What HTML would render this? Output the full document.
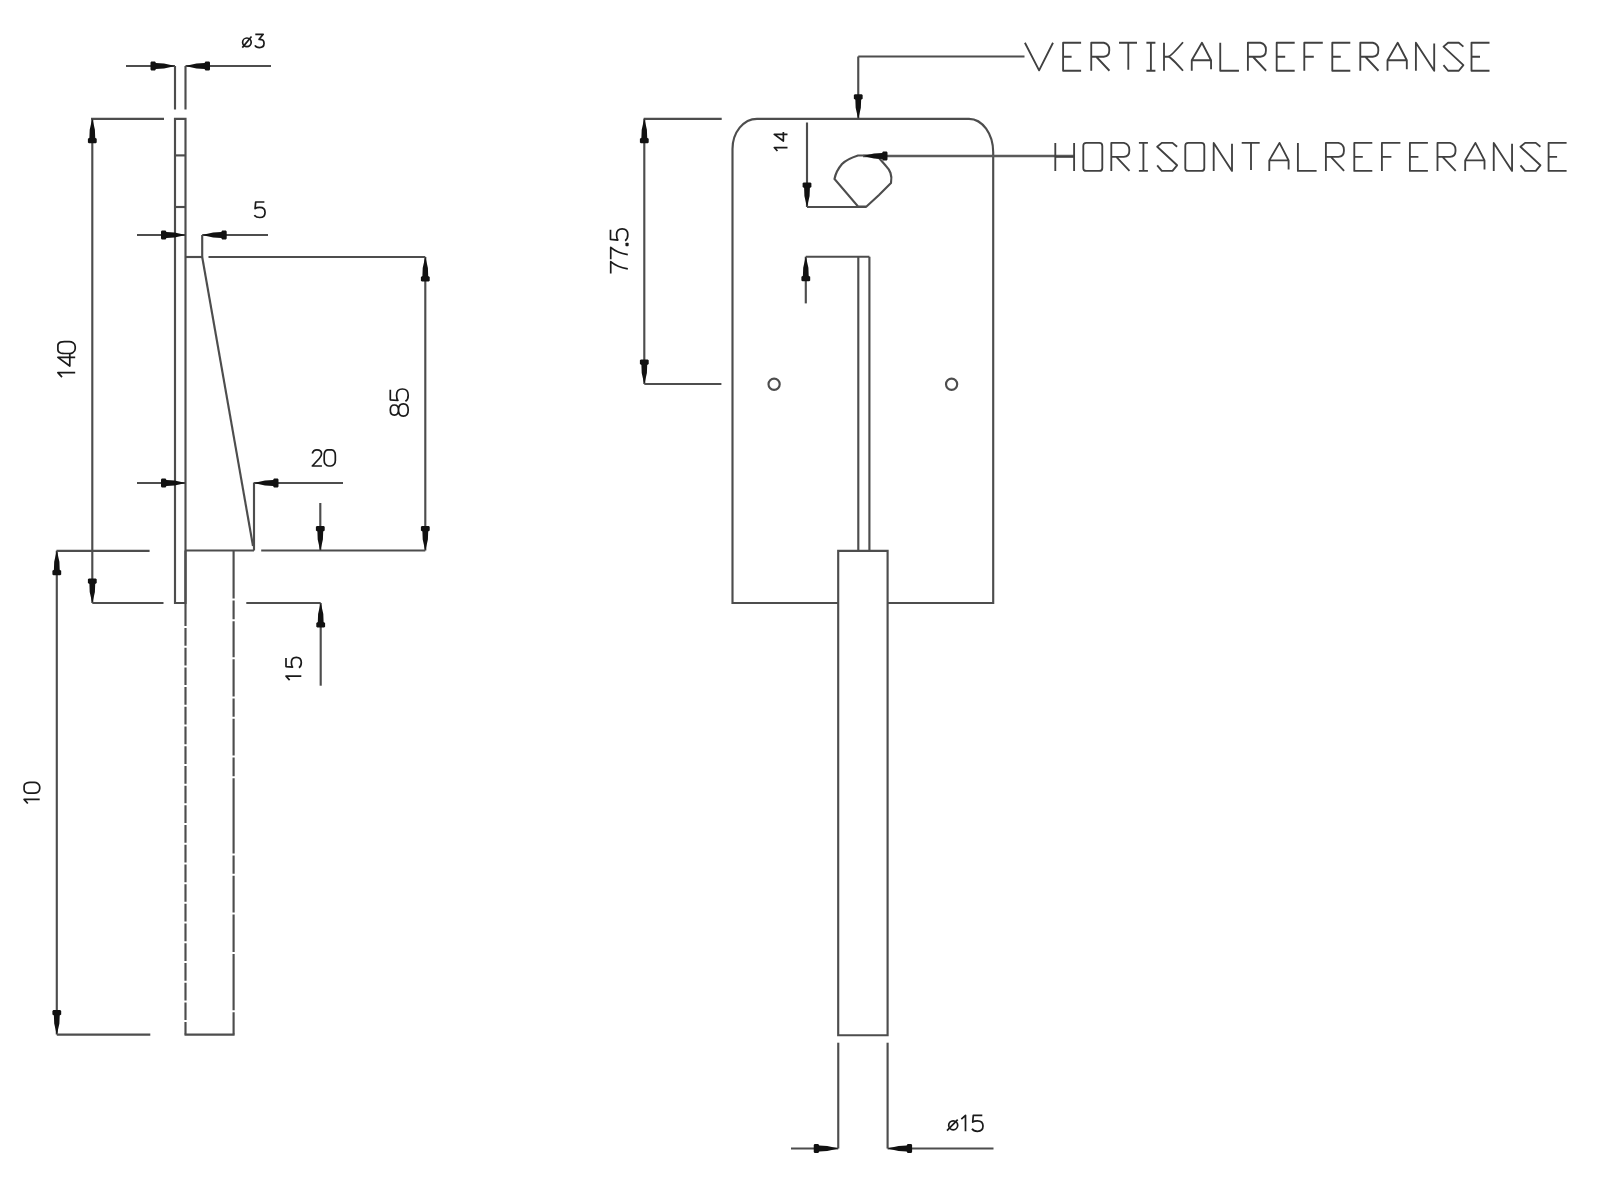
<!DOCTYPE html>
<html><head><meta charset="utf-8"><style>
html,body{margin:0;padding:0;background:#fff;width:1600px;height:1182px;overflow:hidden}
svg{display:block}
text{font-family:"Liberation Sans",sans-serif}
</style></head><body>
<svg width="1600" height="1182" viewBox="0 0 1600 1182">
<rect width="1600" height="1182" fill="#fff"/>
<g stroke="#4d4d4d" stroke-width="2.15" fill="none" stroke-linecap="butt" stroke-linejoin="miter">
<line x1="126" y1="66" x2="175" y2="66" />
<line x1="185.5" y1="66" x2="271" y2="66" />
<polygon points="175.00,66.00 172.00,66.80 164.00,68.60 156.00,68.90 155.00,70.40 151.30,70.40 150.50,69.40 150.50,62.60 151.30,61.60 155.00,61.60 156.00,63.10 164.00,63.40 172.00,65.20" fill="#111" stroke="none"/>
<polygon points="185.50,66.00 188.50,66.80 196.50,68.60 204.50,68.90 205.50,70.40 209.20,70.40 210.00,69.40 210.00,62.60 209.20,61.60 205.50,61.60 204.50,63.10 196.50,63.40 188.50,65.20" fill="#111" stroke="none"/>
<line x1="175" y1="66" x2="175" y2="109.5" />
<line x1="185.5" y1="66" x2="185.5" y2="109.5" />
<path d="M175,603 V118.8 H185.5 V603 Z" fill="none" />
<line x1="175" y1="155.4" x2="185.5" y2="155.4" />
<line x1="175" y1="207" x2="185.5" y2="207" />
<line x1="91" y1="118.8" x2="164" y2="118.8" />
<line x1="92.3" y1="118.8" x2="92.3" y2="603" />
<polygon points="92.30,118.80 93.10,121.80 94.90,129.80 95.20,137.80 96.70,138.80 96.70,142.50 95.70,143.30 88.90,143.30 87.90,142.50 87.90,138.80 89.40,137.80 89.70,129.80 91.50,121.80" fill="#111" stroke="none"/>
<polygon points="92.30,603.00 93.10,600.00 94.90,592.00 95.20,584.00 96.70,583.00 96.70,579.30 95.70,578.50 88.90,578.50 87.90,579.30 87.90,583.00 89.40,584.00 89.70,592.00 91.50,600.00" fill="#111" stroke="none"/>
<line x1="92.3" y1="603" x2="163.5" y2="603" />
<line x1="137" y1="235" x2="185.5" y2="235" />
<polygon points="185.50,235.00 182.50,235.80 174.50,237.60 166.50,237.90 165.50,239.40 161.80,239.40 161.00,238.40 161.00,231.60 161.80,230.60 165.50,230.60 166.50,232.10 174.50,232.40 182.50,234.20" fill="#111" stroke="none"/>
<line x1="202.2" y1="235" x2="268" y2="235" />
<polygon points="202.20,235.00 205.20,235.80 213.20,237.60 221.20,237.90 222.20,239.40 225.90,239.40 226.70,238.40 226.70,231.60 225.90,230.60 222.20,230.60 221.20,232.10 213.20,232.40 205.20,234.20" fill="#111" stroke="none"/>
<line x1="202.2" y1="235" x2="202.2" y2="257" />
<line x1="185.5" y1="257" x2="202.2" y2="257" />
<line x1="202.2" y1="257" x2="253" y2="546" />
<line x1="185.5" y1="550.5" x2="254" y2="550.5" />
<line x1="254" y1="482.5" x2="254" y2="550.5" />
<line x1="208.5" y1="257" x2="425.3" y2="257" />
<line x1="425.3" y1="257" x2="425.3" y2="550.5" />
<polygon points="425.30,257.00 426.10,260.00 427.90,268.00 428.20,276.00 429.70,277.00 429.70,280.70 428.70,281.50 421.90,281.50 420.90,280.70 420.90,277.00 422.40,276.00 422.70,268.00 424.50,260.00" fill="#111" stroke="none"/>
<polygon points="425.30,550.50 426.10,547.50 427.90,539.50 428.20,531.50 429.70,530.50 429.70,526.80 428.70,526.00 421.90,526.00 420.90,526.80 420.90,530.50 422.40,531.50 422.70,539.50 424.50,547.50" fill="#111" stroke="none"/>
<line x1="261.2" y1="550.5" x2="425.3" y2="550.5" />
<line x1="137" y1="483" x2="185.5" y2="483" />
<polygon points="185.50,483.00 182.50,483.80 174.50,485.60 166.50,485.90 165.50,487.40 161.80,487.40 161.00,486.40 161.00,479.60 161.80,478.60 165.50,478.60 166.50,480.10 174.50,480.40 182.50,482.20" fill="#111" stroke="none"/>
<line x1="254" y1="483" x2="343" y2="483" />
<polygon points="254.00,483.00 257.00,483.80 265.00,485.60 273.00,485.90 274.00,487.40 277.70,487.40 278.50,486.40 278.50,479.60 277.70,478.60 274.00,478.60 273.00,480.10 265.00,480.40 257.00,482.20" fill="#111" stroke="none"/>
<line x1="320.3" y1="503" x2="320.3" y2="550.5" />
<polygon points="320.30,550.50 321.10,547.50 322.90,539.50 323.20,531.50 324.70,530.50 324.70,526.80 323.70,526.00 316.90,526.00 315.90,526.80 315.90,530.50 317.40,531.50 317.70,539.50 319.50,547.50" fill="#111" stroke="none"/>
<path d="M185.5,550.50 V626.00 M185.5,628.00 V645.71 M185.5,647.71 V665.41 M185.5,667.41 V685.12 M185.5,687.12 V704.82 M185.5,706.82 V724.52 M185.5,726.52 V744.23 M185.5,746.23 V763.93 M185.5,765.93 V783.64 M185.5,785.64 V803.35 M185.5,805.35 V823.05 M185.5,825.05 V842.75 M185.5,844.75 V862.46 M185.5,864.46 V882.16 M185.5,884.16 V901.87 M185.5,903.87 V921.58 M185.5,923.58 V941.28 M185.5,943.28 V960.98 M185.5,962.98 V980.69 M185.5,982.69 V1000.39 M185.5,1002.39 V1020.10 M185.5,1022.10 V1034.6" fill="none" />
<path d="M233.6,550.50 V598.50 M233.6,600.50 V619.30 M233.6,621.30 V657.20 M233.6,659.20 V696.50 M233.6,698.50 V716.80 M233.6,718.80 V755.40 M233.6,757.40 V776.20 M233.6,778.20 V853.40 M233.6,855.40 V873.70 M233.6,875.70 V912.60 M233.6,914.60 V951.90 M233.6,953.90 V1010.20 M233.6,1012.20 V1034.6" fill="none" />
<line x1="184.5" y1="1034.6" x2="234.6" y2="1034.6" />
<line x1="56.5" y1="550.8" x2="149.6" y2="550.8" />
<line x1="56.8" y1="550.8" x2="56.8" y2="1034.6" />
<polygon points="56.80,550.80 57.60,553.80 59.40,561.80 59.70,569.80 61.20,570.80 61.20,574.50 60.20,575.30 53.40,575.30 52.40,574.50 52.40,570.80 53.90,569.80 54.20,561.80 56.00,553.80" fill="#111" stroke="none"/>
<polygon points="56.80,1034.60 57.60,1031.60 59.40,1023.60 59.70,1015.60 61.20,1014.60 61.20,1010.90 60.20,1010.10 53.40,1010.10 52.40,1010.90 52.40,1014.60 53.90,1015.60 54.20,1023.60 56.00,1031.60" fill="#111" stroke="none"/>
<line x1="56.8" y1="1034.6" x2="150.3" y2="1034.6" />
<line x1="246.3" y1="603" x2="320.7" y2="603" />
<line x1="320.7" y1="603" x2="320.7" y2="685.7" />
<polygon points="320.70,603.00 321.50,606.00 323.30,614.00 323.60,622.00 325.10,623.00 325.10,626.70 324.10,627.50 317.30,627.50 316.30,626.70 316.30,623.00 317.80,622.00 318.10,614.00 319.90,606.00" fill="#111" stroke="none"/>
<path d="M838.2,603 H732.5 V149 A24.5,30.2 0 0 1 757,118.8 H969 A24.3,33.5 0 0 1 993.2,152.3 V603 H887.6" fill="none" />
<path d="M838.2,1035.2 V550.8 H887.6 V1035.2 Z" fill="none" />
<line x1="858.3" y1="256.7" x2="858.3" y2="550.8" />
<line x1="869.4" y1="256.7" x2="869.4" y2="550.8" />
<line x1="805.8" y1="256.7" x2="869.4" y2="256.7" />
<line x1="805.8" y1="256.7" x2="805.8" y2="303.4" />
<polygon points="805.80,256.70 806.60,259.70 808.40,267.70 808.70,275.70 810.20,276.70 810.20,280.40 809.20,281.20 802.40,281.20 801.40,280.40 801.40,276.70 802.90,275.70 803.20,267.70 805.00,259.70" fill="#111" stroke="none"/>
<circle cx="774.1" cy="384.3" r="5.6" fill="none"/>
<circle cx="951.6" cy="384.3" r="5.6" fill="none"/>
<path d="M870,155.5 H858 Q847,159 842,164 Q836,171 834.5,179 L858,206.5 H866.5 L879,195 L891,183 Q892,177 890.5,173 Q889,169 886,166 L879,158 Z" fill="none" />
<line x1="807" y1="122.5" x2="807" y2="207" />
<polygon points="807.00,207.00 807.80,204.00 809.60,196.00 809.90,188.00 811.40,187.00 811.40,183.30 810.40,182.50 803.60,182.50 802.60,183.30 802.60,187.00 804.10,188.00 804.40,196.00 806.20,204.00" fill="#111" stroke="none"/>
<line x1="807" y1="207" x2="866.5" y2="207" />
<line x1="858.25" y1="56.5" x2="1024.5" y2="56.5" />
<line x1="858.25" y1="56.5" x2="858.25" y2="118.8" />
<polygon points="858.25,118.80 859.05,115.80 860.85,107.80 861.15,99.80 862.65,98.80 862.65,95.10 861.65,94.30 854.85,94.30 853.85,95.10 853.85,98.80 855.35,99.80 855.65,107.80 857.45,115.80" fill="#111" stroke="none"/>
<line x1="863" y1="156" x2="1074" y2="156" stroke-width="2.6" stroke="#5a5a5a" />
<polygon points="863.00,156.00 866.00,156.80 874.00,158.60 882.00,158.90 883.00,160.40 886.70,160.40 887.50,159.40 887.50,152.60 886.70,151.60 883.00,151.60 882.00,153.10 874.00,153.40 866.00,155.20" fill="#111" stroke="none"/>
<line x1="643.7" y1="118.8" x2="721.7" y2="118.8" />
<line x1="644.3" y1="118.8" x2="644.3" y2="384" />
<polygon points="644.30,118.80 645.10,121.80 646.90,129.80 647.20,137.80 648.70,138.80 648.70,142.50 647.70,143.30 640.90,143.30 639.90,142.50 639.90,138.80 641.40,137.80 641.70,129.80 643.50,121.80" fill="#111" stroke="none"/>
<polygon points="644.30,384.00 645.10,381.00 646.90,373.00 647.20,365.00 648.70,364.00 648.70,360.30 647.70,359.50 640.90,359.50 639.90,360.30 639.90,364.00 641.40,365.00 641.70,373.00 643.50,381.00" fill="#111" stroke="none"/>
<line x1="644.3" y1="384" x2="721.4" y2="384" />
<line x1="838.25" y1="1042.7" x2="838.25" y2="1148.5" />
<line x1="887.6" y1="1042.7" x2="887.6" y2="1148.5" />
<line x1="791" y1="1148.5" x2="838.25" y2="1148.5" />
<polygon points="838.25,1148.50 835.25,1149.30 827.25,1151.10 819.25,1151.40 818.25,1152.90 814.55,1152.90 813.75,1151.90 813.75,1145.10 814.55,1144.10 818.25,1144.10 819.25,1145.60 827.25,1145.90 835.25,1147.70" fill="#111" stroke="none"/>
<line x1="887.6" y1="1148.5" x2="993.5" y2="1148.5" />
<polygon points="887.60,1148.50 890.60,1149.30 898.60,1151.10 906.60,1151.40 907.60,1152.90 911.30,1152.90 912.10,1151.90 912.10,1145.10 911.30,1144.10 907.60,1144.10 906.60,1145.60 898.60,1145.90 890.60,1147.70" fill="#111" stroke="none"/>
<circle cx="246.9" cy="42.3" r="4.3" fill="none" stroke="#1a1a1a" stroke-width="1.7"/>
<line x1="242.3" y1="47.6" x2="251.5" y2="36.5" stroke="#1a1a1a" stroke-width="1.7"/>
<path transform="translate(254.9,34.3) scale(0.83125)" d="M0.5,0 H10 L5,6 Q11,5.8 11,10.8 Q11,16 5.5,16 Q1.5,16 0,13.3" fill="none" stroke="#1a1a1a" stroke-width="2.045" stroke-linejoin="round"/>
<path transform="translate(254.4,202) scale(0.96875)" d="M10.3,0 H1.3 L0.7,6.8 Q2.3,5.6 5.5,5.6 Q11,5.6 11,10.8 Q11,16 5.5,16 Q1.5,16 0,13.5" fill="none" stroke="#1a1a1a" stroke-width="1.755" stroke-linejoin="round"/>
<path transform="translate(312,449.8) scale(1.0125)" d="M0.3,3.6 Q1.3,0 4.8,0 Q9.4,0 9.4,4 Q9.4,6.2 7.2,8.6 L0.3,16 H9.8" fill="none" stroke="#1a1a1a" stroke-width="1.679" stroke-linejoin="round"/>
<path transform="translate(324.2,449.8) scale(1.0125)" d="M3.5,0 H7.5 Q9.5,0 10.5,2.5 Q11,4 11,6 V10.5 Q11,12.5 10,14 Q8.5,16 6.5,16 H4.5 Q2.5,16 1,14 Q0,12.5 0,10.5 V6 Q0,4 0.5,2.5 Q1.5,0 3.5,0 Z" fill="none" stroke="#1a1a1a" stroke-width="1.679" stroke-linejoin="round"/>
<circle cx="953.2" cy="1125.3" r="4.5" fill="none" stroke="#1a1a1a" stroke-width="1.7"/>
<line x1="947" y1="1130.6" x2="957.7" y2="1119.6" stroke="#1a1a1a" stroke-width="1.7"/>
<path transform="translate(961.0,1115.3) scale(1.0)" d="M0.3,3.8 L4.5,0 V16" fill="none" stroke="#1a1a1a" stroke-width="1.700" stroke-linejoin="round"/>
<path transform="translate(972.0,1115.3) scale(1.0)" d="M10.3,0 H1.3 L0.7,6.8 Q2.3,5.6 5.5,5.6 Q11,5.6 11,10.8 Q11,16 5.5,16 Q1.5,16 0,13.5" fill="none" stroke="#1a1a1a" stroke-width="1.700" stroke-linejoin="round"/>
<path transform="translate(57.9,377.5) rotate(-90) translate(0,0) scale(1.08125)" d="M0.3,3.8 L4.5,0 V16" fill="none" stroke="#1a1a1a" stroke-width="1.572" stroke-linejoin="round"/>
<path transform="translate(57.9,377.5) rotate(-90) translate(11.5,0) scale(1.08125)" d="M8,16 V0 L0,11 H11" fill="none" stroke="#1a1a1a" stroke-width="1.572" stroke-linejoin="round"/>
<path transform="translate(57.9,377.5) rotate(-90) translate(24.0,0) scale(1.08125)" d="M3.5,0 H7.5 Q9.5,0 10.5,2.5 Q11,4 11,6 V10.5 Q11,12.5 10,14 Q8.5,16 6.5,16 H4.5 Q2.5,16 1,14 Q0,12.5 0,10.5 V6 Q0,4 0.5,2.5 Q1.5,0 3.5,0 Z" fill="none" stroke="#1a1a1a" stroke-width="1.572" stroke-linejoin="round"/>
<path transform="translate(390.3,416.2) rotate(-90) translate(0,0) scale(1.11875)" d="M5.5,7.3 Q1,7.3 1,3.65 Q1,0 5.5,0 Q10,0 10,3.65 Q10,7.3 5.5,7.3 Q0,7.3 0,11.65 Q0,16 5.5,16 Q11,16 11,11.65 Q11,7.3 5.5,7.3 Z" fill="none" stroke="#1a1a1a" stroke-width="1.520" stroke-linejoin="round"/>
<path transform="translate(390.3,416.2) rotate(-90) translate(14.9,0) scale(1.11875)" d="M10.3,0 H1.3 L0.7,6.8 Q2.3,5.6 5.5,5.6 Q11,5.6 11,10.8 Q11,16 5.5,16 Q1.5,16 0,13.5" fill="none" stroke="#1a1a1a" stroke-width="1.520" stroke-linejoin="round"/>
<path transform="translate(24.1,805) rotate(-90) translate(1.2,0) scale(0.975)" d="M0.3,3.8 L4.5,0 V16" fill="none" stroke="#1a1a1a" stroke-width="1.744" stroke-linejoin="round"/>
<path transform="translate(24.1,805) rotate(-90) translate(11.8,0) scale(0.975)" d="M3.5,0 H7.5 Q9.5,0 10.5,2.5 Q11,4 11,6 V10.5 Q11,12.5 10,14 Q8.5,16 6.5,16 H4.5 Q2.5,16 1,14 Q0,12.5 0,10.5 V6 Q0,4 0.5,2.5 Q1.5,0 3.5,0 Z" fill="none" stroke="#1a1a1a" stroke-width="1.744" stroke-linejoin="round"/>
<path transform="translate(286,680.4) rotate(-90) translate(0,0) scale(0.95625)" d="M0.3,3.8 L4.5,0 V16" fill="none" stroke="#1a1a1a" stroke-width="1.778" stroke-linejoin="round"/>
<path transform="translate(286,680.4) rotate(-90) translate(12.6,0) scale(0.95625)" d="M10.3,0 H1.3 L0.7,6.8 Q2.3,5.6 5.5,5.6 Q11,5.6 11,10.8 Q11,16 5.5,16 Q1.5,16 0,13.5" fill="none" stroke="#1a1a1a" stroke-width="1.778" stroke-linejoin="round"/>
<path transform="translate(610.5,273.5) rotate(-90) translate(0,0) scale(1.08125)" d="M0,0.2 H11 Q6,6 4.3,16" fill="none" stroke="#1a1a1a" stroke-width="1.572" stroke-linejoin="round"/>
<path transform="translate(610.5,273.5) rotate(-90) translate(14.3,0) scale(1.08125)" d="M0,0.2 H11 Q6,6 4.3,16" fill="none" stroke="#1a1a1a" stroke-width="1.572" stroke-linejoin="round"/>
<path transform="translate(610.5,273.5) rotate(-90) translate(28,0) scale(1.08125)" d="M0.2,14.6 H1.8 V16 H0.2 Z" fill="none" stroke="#1a1a1a" stroke-width="1.572" stroke-linejoin="round"/>
<path transform="translate(610.5,273.5) rotate(-90) translate(32.7,0) scale(1.08125)" d="M10.3,0 H1.3 L0.7,6.8 Q2.3,5.6 5.5,5.6 Q11,5.6 11,10.8 Q11,16 5.5,16 Q1.5,16 0,13.5" fill="none" stroke="#1a1a1a" stroke-width="1.572" stroke-linejoin="round"/>
<path transform="translate(774.3,151.25) rotate(-90) translate(0,0) scale(0.825)" d="M0.3,3.8 L4.5,0 V16" fill="none" stroke="#1a1a1a" stroke-width="2.061" stroke-linejoin="round"/>
<path transform="translate(774.3,151.25) rotate(-90) translate(10.25,0) scale(0.825)" d="M8,16 V0 L0,11 H11" fill="none" stroke="#1a1a1a" stroke-width="2.061" stroke-linejoin="round"/>
<path transform="translate(1024.9,42.75)" d="M0,0 L14.2,27.6 L28.1,0" fill="none" stroke="#404040" stroke-width="1.85" stroke-linejoin="round"/>
<path transform="translate(1063.1,42.75)" d="M18,0 H0 V28 H18 M0,14 H8.5" fill="none" stroke="#404040" stroke-width="1.85" stroke-linejoin="round"/>
<path transform="translate(1091.25,42.75)" d="M0,28 V0 H12.5 Q18,1.5 18,6.5 V8 Q18,13.5 12.5,14 H0 M5,14 L18.2,28" fill="none" stroke="#404040" stroke-width="1.85" stroke-linejoin="round"/>
<path transform="translate(1119,42.75)" d="M0,0 H18 M9.3,0 V27" fill="none" stroke="#404040" stroke-width="1.85" stroke-linejoin="round"/>
<path transform="translate(1146.4,42.75)" d="M0,0 H9 M4.5,0 V28 M0,28 H9" fill="none" stroke="#404040" stroke-width="1.85" stroke-linejoin="round"/>
<path transform="translate(1164,42.75)" d="M0,0 V28 M0,14 H4 Q7,13.5 19,-0.5 M4.5,14 Q7,14.5 19,28" fill="none" stroke="#404040" stroke-width="1.85" stroke-linejoin="round"/>
<path transform="translate(1191.75,42.75)" d="M0,28 V17.5 L10.2,0 L19.3,17.5 V26.5 M0,17.5 H19.3" fill="none" stroke="#404040" stroke-width="1.85" stroke-linejoin="round"/>
<path transform="translate(1220.25,42.75)" d="M0,0 V28 H18.7" fill="none" stroke="#404040" stroke-width="1.85" stroke-linejoin="round"/>
<path transform="translate(1247.9,42.75)" d="M0,28 V0 H12.5 Q18,1.5 18,6.5 V8 Q18,13.5 12.5,14 H0 M5,14 L18.2,28" fill="none" stroke="#404040" stroke-width="1.85" stroke-linejoin="round"/>
<path transform="translate(1276.7,42.75)" d="M18,0 H0 V28 H18 M0,14 H8.5" fill="none" stroke="#404040" stroke-width="1.85" stroke-linejoin="round"/>
<path transform="translate(1304.3,42.75)" d="M18.5,0 H0 V28 M0,14 H9.5" fill="none" stroke="#404040" stroke-width="1.85" stroke-linejoin="round"/>
<path transform="translate(1332.3,42.75)" d="M18,0 H0 V28 H18 M0,14 H8.5" fill="none" stroke="#404040" stroke-width="1.85" stroke-linejoin="round"/>
<path transform="translate(1360.3,42.75)" d="M0,28 V0 H12.5 Q18,1.5 18,6.5 V8 Q18,13.5 12.5,14 H0 M5,14 L18.2,28" fill="none" stroke="#404040" stroke-width="1.85" stroke-linejoin="round"/>
<path transform="translate(1387.5,42.75)" d="M0,28 V17.5 L10.2,0 L19.3,17.5 V26.5 M0,17.5 H19.3" fill="none" stroke="#404040" stroke-width="1.85" stroke-linejoin="round"/>
<path transform="translate(1415.9,42.75)" d="M0,28 V0 L18.3,28 V0.8" fill="none" stroke="#404040" stroke-width="1.85" stroke-linejoin="round"/>
<path transform="translate(1443.5,42.75)" d="M19.9,3.9 L15.3,0 H4.6 L0,3.9 L19.9,22.4 L15.3,28 H4.6 L0,22.4" fill="none" stroke="#404040" stroke-width="1.85" stroke-linejoin="round"/>
<path transform="translate(1471.5,42.75)" d="M18,0 H0 V28 H18 M0,14 H8.5" fill="none" stroke="#404040" stroke-width="1.85" stroke-linejoin="round"/>
<path transform="translate(1055.3,142.9)" d="M0,0 V28 M18.8,0 V28 M0,14 H18.8" fill="none" stroke="#404040" stroke-width="1.85" stroke-linejoin="round"/>
<path transform="translate(1083.3,142.9)" d="M3,0 H16 Q19,0 19,3 V25 Q19,28 16,28 H3 Q0,28 0,25 V3 Q0,0 3,0 Z" fill="none" stroke="#404040" stroke-width="1.85" stroke-linejoin="round"/>
<path transform="translate(1111.3,142.9)" d="M0,28 V0 H12.5 Q18,1.5 18,6.5 V8 Q18,13.5 12.5,14 H0 M5,14 L18.2,28" fill="none" stroke="#404040" stroke-width="1.85" stroke-linejoin="round"/>
<path transform="translate(1138.9,142.9)" d="M0,0 H9 M4.5,0 V28 M0,28 H9" fill="none" stroke="#404040" stroke-width="1.85" stroke-linejoin="round"/>
<path transform="translate(1157.2,142.9)" d="M19.9,3.9 L15.3,0 H4.6 L0,3.9 L19.9,22.4 L15.3,28 H4.6 L0,22.4" fill="none" stroke="#404040" stroke-width="1.85" stroke-linejoin="round"/>
<path transform="translate(1185.3,142.9)" d="M3,0 H16 Q19,0 19,3 V25 Q19,28 16,28 H3 Q0,28 0,25 V3 Q0,0 3,0 Z" fill="none" stroke="#404040" stroke-width="1.85" stroke-linejoin="round"/>
<path transform="translate(1213.7,142.9)" d="M0,28 V0 L18.3,28 V0.8" fill="none" stroke="#404040" stroke-width="1.85" stroke-linejoin="round"/>
<path transform="translate(1241.7,142.9)" d="M0,0 H18 M9.3,0 V27" fill="none" stroke="#404040" stroke-width="1.85" stroke-linejoin="round"/>
<path transform="translate(1269.3,142.9)" d="M0,28 V17.5 L10.2,0 L19.3,17.5 V26.5 M0,17.5 H19.3" fill="none" stroke="#404040" stroke-width="1.85" stroke-linejoin="round"/>
<path transform="translate(1297.9,142.9)" d="M0,0 V28 H18.7" fill="none" stroke="#404040" stroke-width="1.85" stroke-linejoin="round"/>
<path transform="translate(1325.9,142.9)" d="M0,28 V0 H12.5 Q18,1.5 18,6.5 V8 Q18,13.5 12.5,14 H0 M5,14 L18.2,28" fill="none" stroke="#404040" stroke-width="1.85" stroke-linejoin="round"/>
<path transform="translate(1354.3,142.9)" d="M18,0 H0 V28 H18 M0,14 H8.5" fill="none" stroke="#404040" stroke-width="1.85" stroke-linejoin="round"/>
<path transform="translate(1381.9,142.9)" d="M18.5,0 H0 V28 M0,14 H9.5" fill="none" stroke="#404040" stroke-width="1.85" stroke-linejoin="round"/>
<path transform="translate(1409.9,142.9)" d="M18,0 H0 V28 H18 M0,14 H8.5" fill="none" stroke="#404040" stroke-width="1.85" stroke-linejoin="round"/>
<path transform="translate(1437.5,142.9)" d="M0,28 V0 H12.5 Q18,1.5 18,6.5 V8 Q18,13.5 12.5,14 H0 M5,14 L18.2,28" fill="none" stroke="#404040" stroke-width="1.85" stroke-linejoin="round"/>
<path transform="translate(1465.2,142.9)" d="M0,28 V17.5 L10.2,0 L19.3,17.5 V26.5 M0,17.5 H19.3" fill="none" stroke="#404040" stroke-width="1.85" stroke-linejoin="round"/>
<path transform="translate(1493.75,142.9)" d="M0,28 V0 L18.3,28 V0.8" fill="none" stroke="#404040" stroke-width="1.85" stroke-linejoin="round"/>
<path transform="translate(1520.5,142.9)" d="M19.9,3.9 L15.3,0 H4.6 L0,3.9 L19.9,22.4 L15.3,28 H4.6 L0,22.4" fill="none" stroke="#404040" stroke-width="1.85" stroke-linejoin="round"/>
<path transform="translate(1548.6,142.9)" d="M18,0 H0 V28 H18 M0,14 H8.5" fill="none" stroke="#404040" stroke-width="1.85" stroke-linejoin="round"/>
</g>
</svg>
</body></html>
